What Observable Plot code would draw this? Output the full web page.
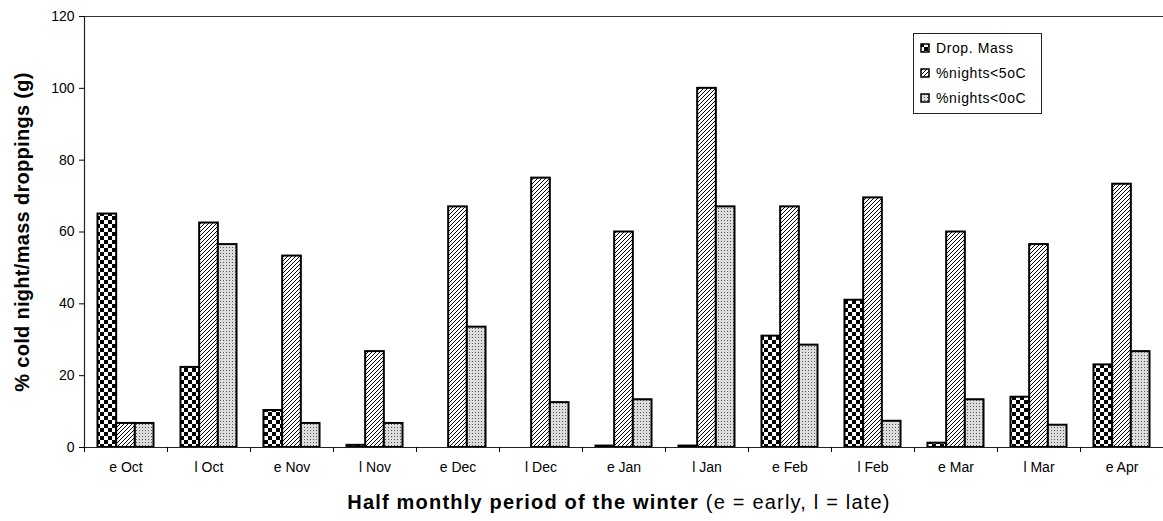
<!DOCTYPE html>
<html>
<head>
<meta charset="utf-8">
<script src="https://cdn.jsdelivr.net/npm/d3@7"></script>
<script src="https://cdn.jsdelivr.net/npm/@observablehq/plot@0.6"></script>
<style>
  body { margin: 0; background: #fff; font-family: "Liberation Sans", Arial, sans-serif; }
  #wrap { position: relative; width: 1163px; height: 521px; overflow: hidden; }
  #legend { position: absolute; left: 913px; top: 33px; width: 129px; height: 81px; border: 1px solid #222;
            background: #fff; box-sizing: border-box; font-size: 14px; letter-spacing: 0.6px; color: #000; }
  #legend .row { position: absolute; left: 6px; height: 16px; display: flex; align-items: center; }
  #legend svg { margin-right: 6px; }
</style>
</head>
<body>
<div id="wrap"><div id="legend"></div></div>
<script>
// ---- data ----
const periods = ["e Oct", "l Oct", "e Nov", "l Nov", "e Dec", "l Dec", "e Jan", "l Jan", "e Feb", "l Feb", "e Mar", "l Mar", "e Apr"];
const seriesNames = ["Drop. Mass", "%nights<5oC", "%nights<0oC"];
const dropMass     = [65, 22.3, 10.3, 0.6, 0, 0, 0.4, 0.4, 31, 41, 1.2, 14, 23];
const nightsBelow5 = [6.7, 62.5, 53.3, 26.7, 67, 75, 60, 100, 67, 69.5, 60, 56.5, 73.3];
const nightsBelow0 = [6.7, 56.5, 6.7, 6.7, 33.5, 12.5, 13.3, 67, 28.5, 7.3, 13.3, 6.2, 26.7];
const yTicks = [0, 20, 40, 60, 80, 100, 120];

const seriesValues = [dropMass, nightsBelow5, nightsBelow0];
const patternFills = ["url(#checker)", "url(#hatch)", "url(#dots)"];

const groupWidth = 0.675;               // share of each period slot used by its group of bars
const barW = groupWidth / seriesNames.length;
const gap = (1 - groupWidth) / 2;

const rows = periods.flatMap((p, i) => seriesNames.map((s, j) => ({
  period: p, i, series: s, j, value: seriesValues[j][i]
})));

const chart = Plot.plot({
  width: 1163,
  height: 521,
  marginLeft: 84,
  marginRight: 0,
  marginTop: 16,
  marginBottom: 74,
  style: { fontFamily: "Liberation Sans, Arial, sans-serif", fontSize: "14px", color: "#000", background: "#fff" },
  x: { domain: [0, periods.length] },
  y: { domain: [0, 120] },
  color: { type: "identity" },
  marks: [
    Plot.rectY(rows, {
      x1: d => d.i + gap + d.j * barW,
      x2: d => d.i + gap + (d.j + 1) * barW,
      y1: 0,
      y2: "value",
      fill: d => patternFills[d.j],
      stroke: "#000",
      strokeWidth: 2
    }),
    Plot.ruleY([0], { stroke: "#222", strokeWidth: 1.2 }),
    Plot.ruleY([120], { stroke: "#333", strokeWidth: 1.2 }),
    Plot.ruleX([0], { stroke: "#222", strokeWidth: 1.2 }),
    Plot.axisY(yTicks, { tickSize: 5, tickPadding: 5, label: null, fontSize: 14, letterSpacing: 1 }),
    Plot.axisX(d3.range(periods.length + 1), { tickSize: 5, tickFormat: () => "", label: null }),
    Plot.axisX(periods.map((p, i) => i + 0.5), {
      tickSize: 0, tickPadding: 15, label: null, fontSize: 14,
      tickFormat: v => periods[Math.floor(v)]
    })
  ]
});

const svg = d3.select(chart);
svg.insert("defs", ":first-child").html(`
  <pattern id="checker" width="8" height="8" patternUnits="userSpaceOnUse">
    <rect width="8" height="8" fill="#fff"/>
    <rect width="4" height="4" fill="#000"/>
    <rect x="4" y="4" width="4" height="4" fill="#000"/>
  </pattern>
  <pattern id="hatch" width="4" height="4" patternUnits="userSpaceOnUse">
    <rect width="4" height="4" fill="#fff"/>
    <path d="M-1,1 L1,-1 M0,4 L4,0 M3,5 L5,3" stroke="#000" stroke-width="1"/>
  </pattern>
  <pattern id="dots" width="3" height="3" patternUnits="userSpaceOnUse">
    <rect width="3" height="3" fill="#dcdcdc"/>
    <rect x="1" y="1" width="1" height="1" fill="#555"/>
  </pattern>
`);

// axis titles
svg.append("text")
  .attr("transform", "translate(29,232) rotate(-90)")
  .attr("text-anchor", "middle")
  .attr("font-weight", "bold")
  .style("font-size", "20px")
  .style("letter-spacing", "0.3px")
  .attr("fill", "#000")
  .text("% cold night/mass droppings (g)");

const xt = svg.append("text")
  .attr("x", 619)
  .attr("y", 509)
  .attr("text-anchor", "middle")
  .style("font-size", "20px")
  .style("letter-spacing", "1.2px")
  .attr("fill", "#000");
xt.append("tspan").attr("font-weight", "bold").text("Half monthly period of the winter");
xt.append("tspan").text(" (e = early, l = late)");

document.getElementById("wrap").prepend(chart);

// legend
const legend = d3.select("#legend");
seriesNames.forEach((name, j) => {
  const row = legend.append("div").attr("class", "row").style("top", `${6 + j * 25}px`);
  const sw = row.append("svg").attr("width", 10).attr("height", 10);
  sw.append("rect").attr("x", 1).attr("y", 1).attr("width", 8).attr("height", 8)
    .attr("fill", patternFills[j]).attr("stroke", "#000").attr("stroke-width", 1.5);
  row.append("span").text(name);
});
</script>
</body>
</html>
